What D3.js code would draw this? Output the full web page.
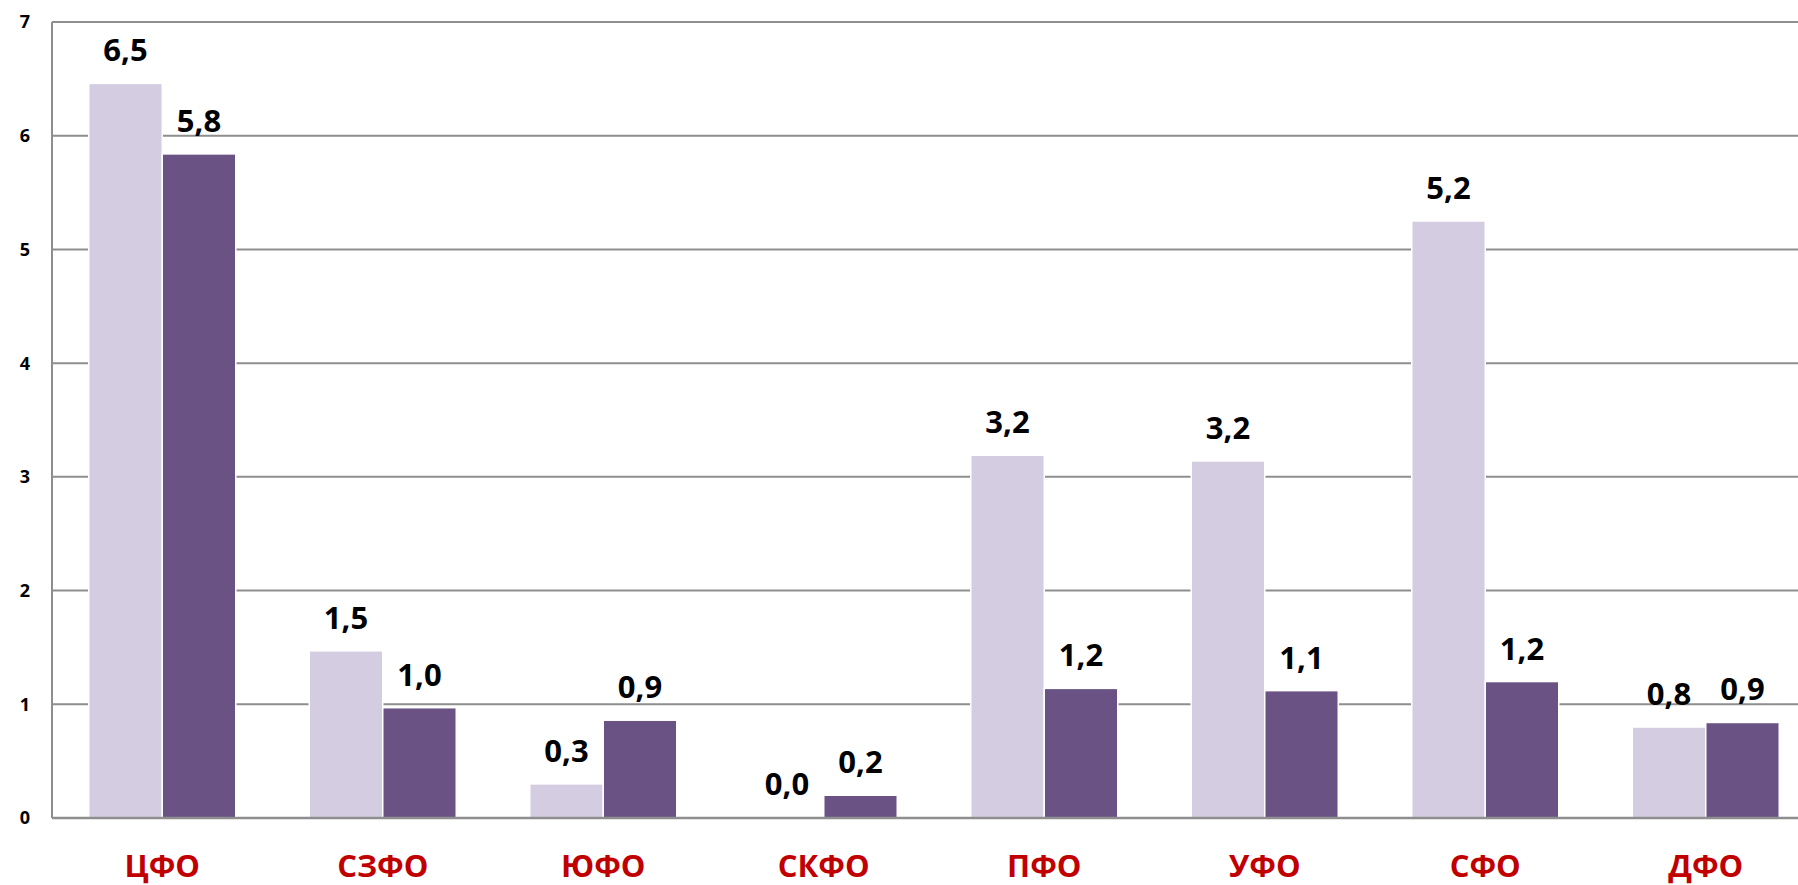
<!DOCTYPE html>
<html>
<head>
<meta charset="utf-8">
<script src="https://cdn.jsdelivr.net/npm/d3@7"></script>
<style>
  body { margin: 0; background: #fff; }
  svg { display: block; }
</style>
</head>
<body>
<script>
// data
const districts = ['ЦФО', 'СЗФО', 'ЮФО', 'СКФО', 'ПФО', 'УФО', 'СФО', 'ДФО'];
const series1 = [6.46, 1.47, 0.30, 0.01, 3.19, 3.14, 5.25, 0.80];
const series2 = [5.84, 0.97, 0.86, 0.20, 1.14, 1.12, 1.20, 0.84];
const labels1 = ['6,5', '1,5', '0,3', '0,0', '3,2', '3,2', '5,2', '0,8'];
const labels2 = ['5,8', '1,0', '0,9', '0,2', '1,2', '1,1', '1,2', '0,9'];
const yTicks = [0, 1, 2, 3, 4, 5, 6, 7];

// setup svg
let width = 1798, height = 885;
let svg = d3.select('body').append('svg').attr('width', width).attr('height', height);

// scales
let x = d3.scaleBand().domain(districts).range([52, 1816]).paddingInner(1/3).paddingOuter(1/6);
let y = d3.scaleLinear().domain([0, 7]).range([818, 22]);
let half = x.bandwidth() / 2;

// gridlines
svg.append('g').selectAll('line').data(yTicks.filter(d => d > 0)).join('line')
  .attr('x1', 52).attr('x2', width)
  .attr('y1', d => y(d)).attr('y2', d => y(d))
  .attr('stroke', '#8e8e8e').attr('stroke-width', 2);

// y axis
svg.append('line').attr('x1', 52).attr('x2', 52).attr('y1', y(7)).attr('y2', y(0))
  .attr('stroke', '#8e8e8e').attr('stroke-width', 2);
svg.append('g').selectAll('text').data(yTicks).join('text')
  .attr('x', 30).attr('y', d => y(d)).attr('dy', '0.36em')
  .attr('text-anchor', 'end')
  .style('font-family', 'Open Sans').style('font-weight', 'bold').style('font-size', '18px')
  .text(d => d);

// bars
let groups = svg.append('g').selectAll('g').data(districts).join('g')
  .attr('transform', d => `translate(${x(d)},0)`);
groups.append('rect')
  .attr('x', 0).attr('width', half)
  .attr('y', (d, i) => y(series1[i])).attr('height', (d, i) => y(0) - y(series1[i]))
  .attr('fill', '#d4cce1').attr('stroke', '#fff').attr('stroke-width', 1.5);
groups.append('rect')
  .attr('x', half).attr('width', half)
  .attr('y', (d, i) => y(series2[i])).attr('height', (d, i) => y(0) - y(series2[i]))
  .attr('fill', '#6a5384').attr('stroke', '#fff').attr('stroke-width', 1.5);

// value labels
let lblStyle = sel => sel.attr('text-anchor', 'middle')
  .style('font-family', 'Open Sans').style('font-weight', 'bold').style('font-size', '31px').attr('fill', '#000');
groups.append('text').call(lblStyle)
  .attr('x', half / 2).attr('y', (d, i) => y(series1[i]) - 22)
  .text((d, i) => labels1[i]);
groups.append('text').call(lblStyle)
  .attr('x', half * 1.5).attr('y', (d, i) => y(series2[i]) - 22)
  .text((d, i) => labels2[i]);

// x axis line
svg.append('line').attr('x1', 52).attr('x2', width).attr('y1', y(0)).attr('y2', y(0))
  .attr('stroke', '#8e8e8e').attr('stroke-width', 2.5);

// category labels
svg.append('g').selectAll('text').data(districts).join('text')
  .attr('x', d => x(d) + half).attr('y', 877)
  .attr('text-anchor', 'middle')
  .style('font-family', 'Open Sans').style('font-weight', 'bold').style('font-size', '31px')
  .attr('fill', '#c00000')
  .text(d => d);
</script>
</body>
</html>
